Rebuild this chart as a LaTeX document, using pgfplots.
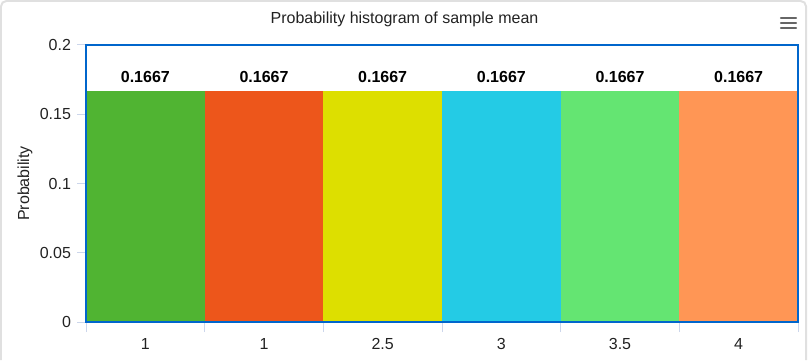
\documentclass[border=0pt]{standalone}
\usepackage{pgfplots}
\pgfplotsset{compat=1.18}
\usepackage{fontspec}
\setmainfont{Liberation Sans}
\definecolor{c1}{HTML}{50B432}
\definecolor{c2}{HTML}{ED561B}
\definecolor{c3}{HTML}{DDDF00}
\definecolor{c4}{HTML}{24CBE5}
\definecolor{c5}{HTML}{64E572}
\definecolor{c6}{HTML}{FF9655}
\definecolor{frameblue}{HTML}{0066CC}
\definecolor{tickc}{HTML}{CCD6EB}
\definecolor{txt}{HTML}{222222}
\begin{document}
\begin{tikzpicture}[x=0.75pt,y=0.75pt]
\path[use as bounding box] (-86,-38) rectangle (723,322);
\draw[color=black!12, line width=1.5pt, rounded corners=4pt] (-85,-38) -- (-85,321) -- (720,321) -- (720,-38);
\node[font=\fontsize{12pt}{14pt}\selectfont, text=txt] at (318.5,303) {Probability histogram of sample mean};
\foreach \yy in {304,299,294} {
  \draw[color=black!60, line width=1.7pt, line cap=round] (695,\yy) -- (710,\yy);
}
\begin{axis}[
  scale only axis, width=534pt, height=207.75pt,
  xmin=-0.5, xmax=5.5, ymin=0, ymax=0.2,
  ytick={0,0.05,0.1,0.15,0.2},
  xtick={0,1,2,3,4,5},
  xticklabels={1,1,2.5,3,3.5,4},
  minor xtick={-0.5,0.5,1.5,2.5,3.5,4.5,5.5},
  xtick pos=bottom, ytick pos=left,
  tick align=outside,
  major tick length=6.75pt,
  minor tick length=7.5pt,
  minor x tick style={draw=tickc, line width=0.75pt},
  ytick style={draw=tickc, line width=0.75pt},
  every x tick/.style={draw=none},
  axis line style={draw=frameblue, line width=1.5pt},
  axis on top,
  tick label style={font=\fontsize{12pt}{14pt}\selectfont, text=txt},
  /pgf/number format/assume math mode=true,
  yticklabel style={/pgf/number format/fixed, /pgf/number format/precision=2, xshift=-1pt},
  xticklabel style={yshift=-2pt},
  ylabel={Probability},
  ylabel style={font=\fontsize{12pt}{14pt}\selectfont, text=txt, at={(axis description cs:-0.0857,0.5)}, anchor=center},
  ybar, bar width=1, bar shift=0pt,
  nodes near coords={\pgfmathprintnumber[fixed,precision=4,fixed zerofill]{\pgfplotspointmeta}},
  every node near coord/.append style={font=\bfseries\fontsize{12pt}{14pt}\selectfont, text=black, inner sep=0pt, anchor=south, yshift=6pt},
]
\addplot[fill=c1, draw=none] coordinates {(0,0.1667)};
\addplot[fill=c2, draw=none] coordinates {(1,0.1667)};
\addplot[fill=c3, draw=none] coordinates {(2,0.1667)};
\addplot[fill=c4, draw=none] coordinates {(3,0.1667)};
\addplot[fill=c5, draw=none] coordinates {(4,0.1667)};
\addplot[fill=c6, draw=none] coordinates {(5,0.1667)};
\end{axis}
\end{tikzpicture}
\end{document}
